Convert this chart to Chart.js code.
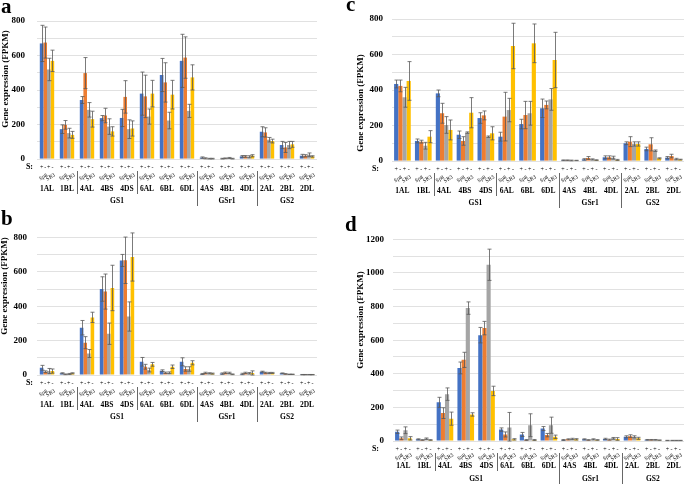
<!DOCTYPE html>
<html>
<head>
<meta charset="utf-8">
<script src="https://cdn.jsdelivr.net/npm/chart.js@4.4.1/dist/chart.umd.min.js"></script>
<style>
  body { margin: 0; background: #fff; width: 685px; height: 488px; position: relative; overflow: hidden; font-family: 'Liberation Serif', serif; }
  canvas { position: absolute; }
  .tag { position: absolute; font-weight: bold; font-size: 21px; line-height: 21px; }
</style>
</head>
<body>
<canvas id="chartA" width="340" height="222" style="left:0;top:0"></canvas>
<canvas id="chartB" width="340" height="266" style="left:0;top:222px"></canvas>
<canvas id="chartC" width="345" height="225" style="left:340px;top:0"></canvas>
<canvas id="chartD" width="345" height="263" style="left:340px;top:225px"></canvas>
<div class="tag" style="left:1px;top:-4px">a</div>
<div class="tag" style="left:1px;top:208px">b</div>
<div class="tag" style="left:346px;top:-6px">c</div>
<div class="tag" style="left:345px;top:214px">d</div>
<script>
// Axis labels
const categories = ['1AL', '1BL', '4AL', '4BS', '4DS', '6AL', '6BL', '6DL', '4AS', '4BL', '4DL', '2AL', '2BL', '2DL'];
const groupNames = ['GS1', 'GSr1', 'GS2'];
const groupStart = [0, 8, 11];
const groupEnd = [7, 10, 13];
const subBreaks = [2, 5];            // extra dividers inside GS1
const stress = ['+', '-', '+', '-'];
const cultivars = ['Sp8', 'SR3'];
const seriesNames = ['Sp8 +', 'Sp8 -', 'SR3 +', 'SR3 -'];
const colors = ['#4472C4', '#ED7D31', '#A5A5A5', '#FFC000'];

// Panel a
const aSp8Pos = [670, 173, 342, 237, 238, 379, 487, 569, 8, 2, 15, 158, 81, 19];
const aSp8Neg = [675, 198, 498, 252, 360, 363, 444, 588, 4, 4, 15, 154, 67, 19];
const aSR3Pos = [519, 150, 285, 188, 173, 246, 223, 279, 2, 6, 13, 112, 81, 25];
const aSR3Neg = [569, 140, 231, 160, 177, 379, 373, 473, 2, 2, 19, 104, 85, 15];
const aSp8PosErr = [105, 25, 20, 15, 50, 125, 96, 154, 4, 2, 5, 29, 21, 8];
const aSp8NegErr = [90, 25, 90, 42, 94, 123, 114, 120, 3, 2, 5, 27, 29, 6];
const aSR3PosErr = [65, 28, 42, 45, 54, 44, 48, 38, 2, 3, 6, 13, 21, 10];
const aSR3NegErr = [62, 20, 46, 27, 44, 77, 83, 73, 2, 2, 6, 11, 17, 4];

// Panel b
const bSp8Pos = [42, 10, 275, 500, 666, 77, 25, 77, 6, 8, 6, 19, 10, 2];
const bSp8Neg = [19, 4, 188, 485, 667, 48, 13, 35, 12, 13, 12, 13, 6, 2];
const bSR3Pos = [23, 6, 125, 240, 340, 29, 13, 35, 10, 12, 10, 12, 4, 2];
const bSR3Neg = [23, 10, 335, 506, 686, 62, 48, 71, 8, 4, 12, 12, 4, 2];
const bSp8PosErr = [14, 3, 42, 71, 35, 25, 5, 23, 3, 4, 4, 3, 2, 1];
const bSp8NegErr = [5, 2, 35, 102, 135, 14, 4, 13, 4, 4, 4, 3, 2, 1];
const bSR3PosErr = [15, 3, 23, 62, 85, 11, 5, 13, 3, 4, 4, 3, 1, 1];
const bSR3NegErr = [12, 3, 30, 132, 140, 11, 10, 12, 3, 2, 12, 3, 1, 1];

// Panel c
const cSp8Pos = [434, 113, 381, 148, 242, 137, 208, 297, 4, 9, 21, 100, 68, 19];
const cSp8Neg = [423, 109, 269, 113, 257, 250, 259, 316, 4, 17, 21, 109, 94, 28];
const cSR3Pos = [359, 86, 203, 160, 137, 287, 269, 347, 3, 9, 19, 96, 58, 11];
const cSR3Neg = [451, 137, 175, 272, 156, 648, 663, 569, 3, 5, 6, 96, 15, 8];
const cSp8PosErr = [22, 11, 19, 21, 30, 25, 27, 52, 2, 4, 8, 8, 10, 6];
const cSp8NegErr = [33, 8, 56, 24, 25, 137, 77, 22, 2, 8, 8, 28, 37, 10];
const cSR3PosErr = [56, 19, 47, 4, 4, 66, 67, 61, 2, 3, 8, 12, 4, 4];
const cSR3NegErr = [109, 34, 56, 85, 37, 128, 109, 156, 1, 2, 3, 12, 3, 2];

// Panel d
const dSp8Pos = [55, 10, 230, 435, 630, 68, 39, 74, 6, 10, 12, 25, 7, 3];
const dSp8Neg = [16, 6, 166, 483, 672, 39, 6, 35, 10, 6, 8, 29, 7, 3];
const dSR3Pos = [64, 14, 279, 791, 1049, 80, 94, 94, 12, 10, 16, 25, 7, 3];
const dSR3Neg = [16, 6, 133, 158, 298, 10, 6, 25, 10, 6, 12, 16, 5, 3];
const dSp8PosErr = [10, 3, 30, 35, 46, 10, 12, 12, 3, 3, 4, 6, 2, 1];
const dSp8NegErr = [8, 2, 32, 45, 40, 15, 3, 10, 3, 2, 3, 8, 2, 1];
const dSR3PosErr = [20, 4, 37, 37, 93, 90, 68, 48, 4, 3, 5, 6, 2, 1];
const dSR3NegErr = [10, 2, 39, 10, 28, 4, 3, 10, 4, 2, 8, 6, 1, 1];

const serif = '"Liberation Serif", "Times New Roman", serif';

// error bars drawn from each bar's own position
const errorBars = {
  id: 'errorBars',
  afterDatasetsDraw(chart) {
    const ctx = chart.ctx;
    const y = chart.scales.y;
    ctx.save();
    ctx.strokeStyle = '#595959';
    ctx.lineWidth = 0.8;
    chart.data.datasets.forEach((ds, i) => {
      chart.getDatasetMeta(i).data.forEach((bar, j) => {
        const v = ds.data[j], e = ds.errors[j];
        const top = y.getPixelForValue(v + e);
        const bot = y.getPixelForValue(Math.max(0, v - e));
        const x = Math.round(bar.x) + 0.5;
        ctx.beginPath();
        ctx.moveTo(x, top); ctx.lineTo(x, bot);
        ctx.moveTo(x - 2, top); ctx.lineTo(x + 2, top);
        ctx.moveTo(x - 2, bot); ctx.lineTo(x + 2, bot);
        ctx.stroke();
      });
    });
    ctx.restore();
  }
};

// multi-level category axis + y title
const axisText = {
  id: 'axisText',
  afterDraw(chart, args, o) {
    const ctx = chart.ctx;
    const x = chart.scales.x;
    const b = chart.chartArea.bottom;
    const metas = chart.data.datasets.map((d, i) => chart.getDatasetMeta(i));
    ctx.save();
    ctx.fillStyle = '#000';
    ctx.textBaseline = 'middle';

    ctx.font = 'bold 8px ' + serif;
    ctx.textAlign = 'right';
    ctx.fillText('S:', o.sX, b + o.plusDy);

    ctx.textAlign = 'center';
    categories.forEach((c, j) => {
      ctx.font = '6px ' + serif;
      metas.forEach((m, k) => ctx.fillText(stress[k], m.data[j].x, b + o.plusDy));
      ctx.font = '5.5px ' + serif;
      cultivars.forEach((cv, k) => {
        const cx = (metas[2 * k].data[j].x + metas[2 * k + 1].data[j].x) / 2;
        ctx.save();
        ctx.translate(cx, b + o.cvDy);
        ctx.rotate(-0.55);
        ctx.fillText(cv, 0, 0);
        ctx.restore();
      });
      ctx.font = 'bold 7.5px ' + serif;
      ctx.fillText(c, x.getPixelForValue(j), b + o.catDy);
    });

    ctx.font = 'bold 7.5px ' + serif;
    groupNames.forEach((g, i) => {
      const cx = (x.getPixelForValue(groupStart[i]) + x.getPixelForValue(groupEnd[i])) / 2;
      ctx.fillText(g, cx, b + o.grpDy);
    });

    const mid = (i) => Math.round((x.getPixelForValue(i - 1) + x.getPixelForValue(i)) / 2) + 0.5;
    ctx.strokeStyle = '#404040';
    ctx.lineWidth = 0.8;
    ctx.beginPath();
    subBreaks.forEach(i => { ctx.moveTo(mid(i), b + o.plusDy + 4); ctx.lineTo(mid(i), b + o.catDy + 5); });
    groupStart.slice(1).forEach(i => { ctx.moveTo(mid(i), b + o.plusDy + 4); ctx.lineTo(mid(i), b + o.grpDy + 5); });
    ctx.stroke();

    ctx.font = 'bold 9px ' + serif;
    ctx.translate(o.titleX, o.titleY);
    ctx.rotate(-Math.PI / 2);
    ctx.fillText('Gene expression (FPKM)', 0, 0);
    ctx.restore();
  }
};

function makeChart(id, values, errors, p) {
  new Chart(document.getElementById(id), {
    type: 'bar',
    data: {
      labels: categories,
      datasets: values.map((v, i) => ({
        label: seriesNames[i],
        data: v,
        errors: errors[i],
        backgroundColor: colors[i],
        categoryPercentage: p.catPct,
        barPercentage: 1.0
      }))
    },
    options: {
      responsive: false,
      animation: false,
      devicePixelRatio: 1,
      layout: { padding: { left: 0, right: p.right, top: p.top, bottom: 0 } },
      plugins: {
        legend: { display: false },
        tooltip: { enabled: false },
        axisText: p.text
      },
      scales: {
        x: {
          ticks: { display: false },
          grid: { display: false },
          border: { display: false },
          afterFit: (s) => { s.height = p.xHeight; }
        },
        y: {
          min: 0,
          max: p.max,
          ticks: {
            stepSize: 100,
            padding: p.tickPad,
            color: '#000',
            font: { family: serif, size: 9, weight: 'bold' },
            callback: (v) => (v % 200 === 0 ? v : '')
          },
          grid: { color: '#d9d9d9', lineWidth: 0.8, drawTicks: false },
          border: { display: false },
          afterFit: (s) => { s.width = p.yWidth; }
        }
      }
    },
    plugins: [errorBars, axisText]
  });
}

makeChart('chartA',
  [aSp8Pos, aSp8Neg, aSR3Pos, aSR3Neg],
  [aSp8PosErr, aSp8NegErr, aSR3PosErr, aSR3NegErr],
  { top: 21, right: 23, yWidth: 37, xHeight: 63, max: 800, tickPad: 12, catPct: 0.72,
    text: { sX: 33, plusDy: 8, cvDy: 18, catDy: 30, grpDy: 42, titleX: 6, titleY: 79 } });

makeChart('chartB',
  [bSp8Pos, bSp8Neg, bSR3Pos, bSR3Neg],
  [bSp8PosErr, bSp8NegErr, bSR3PosErr, bSR3NegErr],
  { top: 14, right: 23, yWidth: 37, xHeight: 113, max: 800, tickPad: 10, catPct: 0.72,
    text: { sX: 33, plusDy: 8, cvDy: 18, catDy: 30, grpDy: 42, titleX: 5, titleY: 64 } });

makeChart('chartC',
  [cSp8Pos, cSp8Neg, cSR3Pos, cSR3Neg],
  [cSp8PosErr, cSp8NegErr, cSR3PosErr, cSR3NegErr],
  { top: 19, right: 1, yWidth: 52, xHeight: 64, max: 800, tickPad: 9, catPct: 0.8,
    text: { sX: 39, plusDy: 8, cvDy: 18, catDy: 30, grpDy: 42, titleX: 21, titleY: 103 } });

makeChart('chartD',
  [dSp8Pos, dSp8Neg, dSR3Pos, dSR3Neg],
  [dSp8PosErr, dSp8NegErr, dSR3PosErr, dSR3NegErr],
  { top: 10, right: 1, yWidth: 53, xHeight: 47, max: 1200, tickPad: 9, catPct: 0.8,
    text: { sX: 39, plusDy: 8, cvDy: 16, catDy: 25, grpDy: 38, titleX: 21, titleY: 95 } });
</script>
</body>
</html>
